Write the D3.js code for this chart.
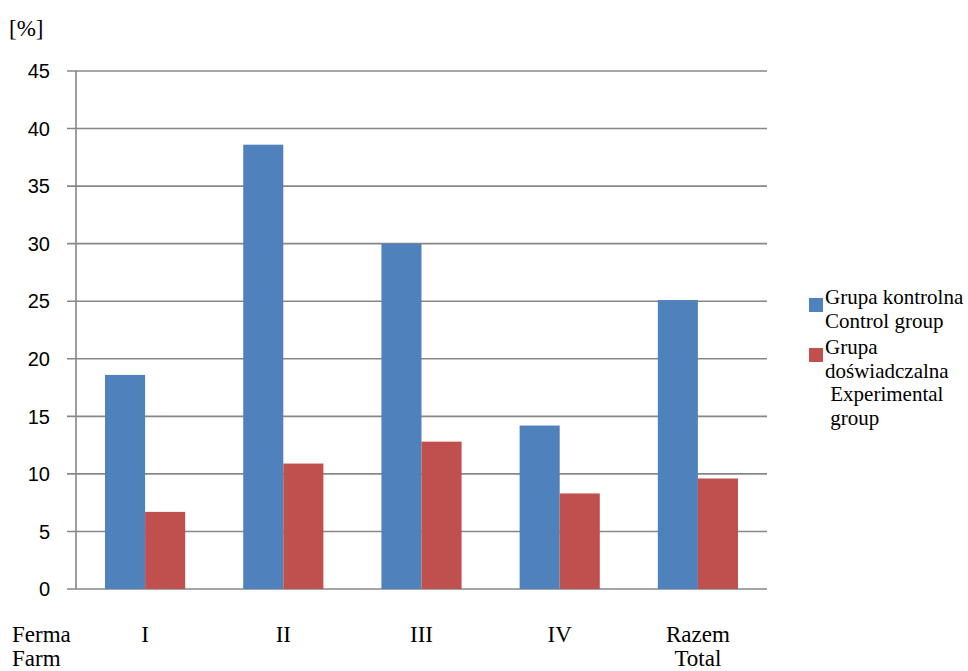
<!DOCTYPE html>
<html>
<head>
<meta charset="utf-8">
<script src="https://cdn.jsdelivr.net/npm/d3@7"></script>
<style>
  html, body { margin: 0; padding: 0; background: #fff; }
  svg { display: block; }
  .serif { font-family: "Liberation Serif", "Times New Roman", Times, serif; }
  .sans { font-family: "Liberation Sans", Arial, sans-serif; }
</style>
</head>
<body>
<svg id="chart" width="968" height="671"></svg>
<script>
// Farms and their category labels (two lines where needed)
const farms = ["I", "II", "III", "IV", "Razem"];
const farmLabels = [["I"], ["II"], ["III"], ["IV"], ["Razem", "Total"]];
// Percentages per group
const controlGroup = [18.6, 38.6, 30.0, 14.2, 25.1];
const experimentalGroup = [6.7, 10.9, 12.8, 8.3, 9.6];
const yTicks = [0, 5, 10, 15, 20, 25, 30, 35, 40, 45];
const seriesNames = ["control", "experimental"];
const legendLines = [
  ["Grupa kontrolna", "Control group"],
  ["Grupa", "doświadczalna", " Experimental", " group"]
];
const colors = ["#4F81BD", "#C0504D"];

const svg = d3.select("#chart");
const plotLeft = 76, plotRight = 767, plotTop = 71, plotBottom = 589;

const x = d3.scaleBand().domain(farms).range([plotLeft, plotRight])
  .paddingInner(0.42).paddingOuter(0.21);
const xs = d3.scaleBand().domain(seriesNames).range([0, x.bandwidth()]);
const y = d3.scaleLinear().domain([0, 45]).range([plotBottom, plotTop]);

// Horizontal gridlines with short ticks left of the axis
svg.append("g").selectAll("line").data(yTicks).join("line")
  .attr("x1", plotLeft - 9).attr("x2", plotRight)
  .attr("y1", d => y(d)).attr("y2", d => y(d))
  .attr("stroke", "#878787").attr("stroke-width", 1.6);

// Vertical axis line
svg.append("line")
  .attr("x1", plotLeft).attr("x2", plotLeft).attr("y1", plotTop).attr("y2", plotBottom)
  .attr("stroke", "#878787").attr("stroke-width", 1.6);

// Y tick labels
svg.append("g").selectAll("text").data(yTicks).join("text")
  .attr("class", "sans")
  .attr("x", 50).attr("y", d => y(d)).attr("dy", "0.36em")
  .attr("text-anchor", "end")
  .attr("font-size", 20).attr("fill", "#000")
  .text(d => d);

// Unit label
svg.append("text").attr("class", "serif").attr("x", 9).attr("y", 36)
  .attr("font-size", 23).text("[%]");

// Bars
const rows = farms.map((f, i) => ({ farm: f, values: [controlGroup[i], experimentalGroup[i]] }));
const groups = svg.append("g").selectAll("g").data(rows).join("g")
  .attr("transform", d => `translate(${x(d.farm)},0)`);
groups.selectAll("rect").data(d => d.values.map((v, k) => ({ key: seriesNames[k], v, k })))
  .join("rect")
  .attr("x", d => xs(d.key)).attr("width", xs.bandwidth())
  .attr("y", d => y(d.v)).attr("height", d => y(0) - y(d.v))
  .attr("fill", d => colors[d.k]);

// Category labels
const cat = svg.append("g").selectAll("text").data(farms).join("text")
  .attr("class", "serif")
  .attr("x", d => x(d) + x.bandwidth() / 2).attr("y", 642)
  .attr("text-anchor", "middle").attr("font-size", 23);
cat.each(function(d, i) {
  d3.select(this).selectAll("tspan").data(farmLabels[i]).join("tspan")
    .attr("x", x(d) + x.bandwidth() / 2)
    .attr("dy", (t, j) => j === 0 ? 0 : 24)
    .text(t => t);
});

// "Ferma / Farm" row header
svg.append("text").attr("class", "serif").attr("font-size", 23)
  .selectAll("tspan").data(["Ferma", "Farm"]).join("tspan")
  .attr("x", 12).attr("y", (t, j) => 642 + j * 24).text(t => t);

// Legend
const legendTop = [298, 348];
legendLines.forEach((lines, k) => {
  svg.append("rect").attr("x", 809).attr("y", legendTop[k])
    .attr("width", 14).attr("height", 14).attr("fill", colors[k]);
  svg.append("text").attr("class", "serif").attr("font-size", 21)
    .style("white-space", "pre")
    .selectAll("tspan").data(lines).join("tspan")
    .attr("x", 825).attr("y", (t, j) => legendTop[k] + 6 + j * 23.5)
    .text(t => t);
});
</script>
</body>
</html>
